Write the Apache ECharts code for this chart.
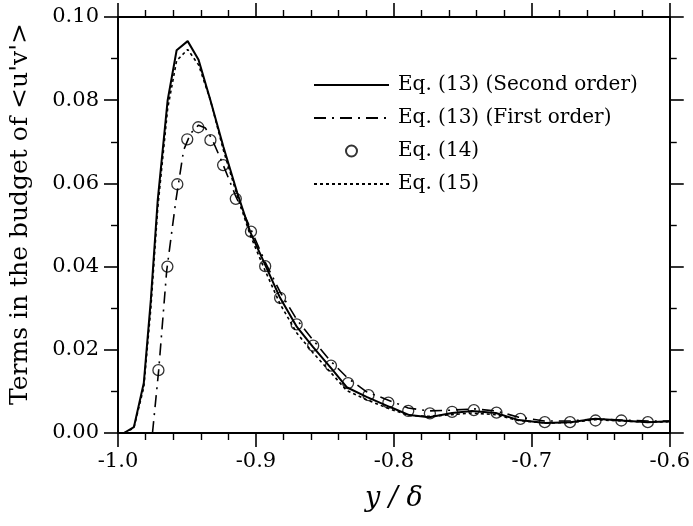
<!DOCTYPE html>
<html>
<head>
<meta charset="utf-8">
<script src="https://cdn.jsdelivr.net/npm/echarts@6/dist/echarts.min.js"></script>
<style>html,body{margin:0;padding:0;background:#fff;}#c{width:693px;height:526px;}</style>
</head>
<body>
<div id="c"></div>
<script>
// ---- data ----
const xTickLabels = ['-1.0', '-0.9', '-0.8', '-0.7', '-0.6'];
const yTickLabels = ['0.00', '0.02', '0.04', '0.06', '0.08', '0.10'];
const seriesNames = ['Eq. (13) (Second order)', 'Eq. (13) (First order)', 'Eq. (14)', 'Eq. (15)'];

const secondOrder = [
  [-0.9957, 0.0000], [-0.9885, 0.0014], [-0.9813, 0.0120], [-0.9762, 0.0320],
  [-0.9712, 0.0560], [-0.9640, 0.0800], [-0.9575, 0.0920], [-0.9495, 0.0942],
  [-0.9416, 0.0897], [-0.9330, 0.0800], [-0.9236, 0.0688], [-0.9135, 0.0577],
  [-0.9041, 0.0483], [-0.8933, 0.0404], [-0.8825, 0.0325], [-0.8703, 0.0255],
  [-0.8587, 0.0207], [-0.8443, 0.0151], [-0.8342, 0.0110], [-0.8198, 0.0087],
  [-0.8032, 0.0063], [-0.7888, 0.0043], [-0.7744, 0.0038], [-0.7578, 0.0048],
  [-0.7434, 0.0053], [-0.7261, 0.0048], [-0.7095, 0.0031], [-0.6901, 0.0024],
  [-0.6720, 0.0026], [-0.6540, 0.0034], [-0.6350, 0.0030], [-0.6160, 0.0026],
  [-0.6000, 0.0028]
];

const firstOrder = [
  [-0.9750, 0.0000], [-0.9705, 0.0151], [-0.9647, 0.0390], [-0.9580, 0.0560],
  [-0.9524, 0.0680], [-0.9474, 0.0720], [-0.9416, 0.0740], [-0.9366, 0.0733],
  [-0.9315, 0.0704], [-0.9243, 0.0649], [-0.9150, 0.0572], [-0.9041, 0.0493],
  [-0.8933, 0.0411], [-0.8825, 0.0339], [-0.8703, 0.0272], [-0.8587, 0.0224],
  [-0.8465, 0.0175], [-0.8335, 0.0132], [-0.8198, 0.0099], [-0.8040, 0.0079],
  [-0.7896, 0.0060], [-0.7744, 0.0053], [-0.7578, 0.0055], [-0.7420, 0.0058],
  [-0.7261, 0.0053], [-0.7095, 0.0038], [-0.6908, 0.0029], [-0.6720, 0.0029],
  [-0.6540, 0.0034], [-0.6353, 0.0031], [-0.6159, 0.0029], [-0.6000, 0.0029]
];

const eq14 = [
  [-0.9707, 0.0151], [-0.9642, 0.0400], [-0.9570, 0.0598], [-0.9498, 0.0706],
  [-0.9418, 0.0735], [-0.9330, 0.0704], [-0.9238, 0.0644], [-0.9146, 0.0563],
  [-0.9036, 0.0484], [-0.8933, 0.0401], [-0.8825, 0.0325], [-0.8705, 0.0261],
  [-0.8585, 0.0210], [-0.8456, 0.0162], [-0.8332, 0.0120], [-0.8184, 0.0091],
  [-0.8040, 0.0073], [-0.7896, 0.0053], [-0.7739, 0.0047], [-0.7578, 0.0051],
  [-0.7420, 0.0055], [-0.7256, 0.0049], [-0.7083, 0.0034], [-0.6906, 0.0026],
  [-0.6723, 0.0026], [-0.6538, 0.0030], [-0.6351, 0.0030], [-0.6159, 0.0026]
];

const eq15 = [
  [-0.9957, 0.0000], [-0.9885, 0.0012], [-0.9813, 0.0110], [-0.9762, 0.0300],
  [-0.9712, 0.0540], [-0.9640, 0.0780], [-0.9575, 0.0895], [-0.9495, 0.0922],
  [-0.9416, 0.0885], [-0.9330, 0.0800], [-0.9236, 0.0680], [-0.9135, 0.0570],
  [-0.9041, 0.0475], [-0.8933, 0.0390], [-0.8825, 0.0310], [-0.8703, 0.0240],
  [-0.8587, 0.0193], [-0.8443, 0.0140], [-0.8342, 0.0102], [-0.8198, 0.0080],
  [-0.8032, 0.0058], [-0.7888, 0.0042], [-0.7744, 0.0040], [-0.7578, 0.0044],
  [-0.7434, 0.0048], [-0.7261, 0.0044], [-0.7095, 0.0030], [-0.6901, 0.0024],
  [-0.6720, 0.0025], [-0.6540, 0.0032], [-0.6350, 0.0029], [-0.6160, 0.0026],
  [-0.6000, 0.0027]
];

// ---- chart ----
const FONT = 'DejaVu Serif';
const xMin = -1, xMax = -0.6, xStep = 0.1;
const yMin = 0, yMax = 0.1, yStep = 0.02;
const xFmt = v => xTickLabels[Math.round((v - xMin) / xStep)] || '';
const yFmt = v => yTickLabels[Math.round((v - yMin) / yStep)] || '';

function xAx(pos, show) {
  return {
    type: 'value', position: pos, min: xMin, max: xMax, interval: xStep,
    axisLine: { show: true, onZero: false, lineStyle: { color: '#000', width: 2 } },
    axisTick: { show: true, inside: false, length: 14, lineStyle: { color: '#000', width: 1.6 } },
    minorTick: { show: true, splitNumber: 5, length: 7, lineStyle: { color: '#000', width: 1.4 } },
    splitLine: { show: false }, minorSplitLine: { show: false },
    axisLabel: { show: show, formatter: xFmt, margin: 18, color: '#000', fontFamily: FONT, fontSize: 21 },
    name: show ? 'y / δ' : '', nameLocation: 'middle', nameGap: 52,
    nameTextStyle: { fontFamily: FONT, fontStyle: 'italic', fontSize: 27, color: '#000' }
  };
}
function yAx(pos, show) {
  return {
    type: 'value', position: pos, min: yMin, max: yMax, interval: yStep,
    axisLine: { show: true, onZero: false, lineStyle: { color: '#000', width: 2 } },
    axisTick: { show: true, inside: false, length: 14, lineStyle: { color: '#000', width: 1.6 } },
    minorTick: { show: true, splitNumber: 2, length: 7, lineStyle: { color: '#000', width: 1.4 } },
    splitLine: { show: false }, minorSplitLine: { show: false },
    axisLabel: { show: show, formatter: yFmt, margin: 19, color: '#000', fontFamily: FONT, fontSize: 21 },
    name: show ? "Terms in the budget of <u'v'>" : '', nameLocation: 'middle', nameGap: 85, nameRotate: 90,
    nameTextStyle: { fontFamily: FONT, fontSize: 25, color: '#000', padding: [0, 0, 0, 22] }
  };
}

const noDot = { opacity: 0 };
const chart = echarts.init(document.getElementById('c'), null, { renderer: 'canvas' });
chart.setOption({
  backgroundColor: '#fff',
  animation: false,
  grid: { left: 117, right: 21, top: 17, bottom: 93, containLabel: false },
  xAxis: [xAx('bottom', true), xAx('top', false)],
  yAxis: [yAx('left', true), yAx('right', false)],
  legend: {
    orient: 'vertical', left: 313, top: 75, padding: 0, itemGap: 13,
    itemWidth: 75, itemHeight: 11,
    textStyle: { fontFamily: FONT, fontSize: 20, color: '#000', padding: [0, 0, 0, 4] },
    data: [
      { name: seriesNames[0], itemStyle: noDot },
      { name: seriesNames[1], itemStyle: noDot },
      { name: seriesNames[2] },
      { name: seriesNames[3], itemStyle: noDot }
    ]
  },
  series: [
    { name: seriesNames[0], type: 'line', data: secondOrder, symbol: 'none', smooth: false,
      lineStyle: { color: '#000', width: 2 }, itemStyle: { color: '#000' }, z: 3 },
    { name: seriesNames[1], type: 'line', data: firstOrder, symbol: 'none', smooth: false,
      lineStyle: { color: '#000', width: 1.6, type: [12, 6, 2, 6] }, itemStyle: { color: '#000' }, z: 3 },
    { name: seriesNames[2], type: 'scatter', data: eq14, symbol: 'circle', symbolSize: 11,
      itemStyle: { color: 'rgba(255,255,255,0)', borderColor: '#000', borderWidth: 1.3 }, z: 4 },
    { name: seriesNames[3], type: 'line', data: eq15, symbol: 'none', smooth: false,
      lineStyle: { color: '#000', width: 1.6, type: [3, 3] }, itemStyle: { color: '#000' }, z: 3 }
  ]
});
</script>
</body>
</html>
